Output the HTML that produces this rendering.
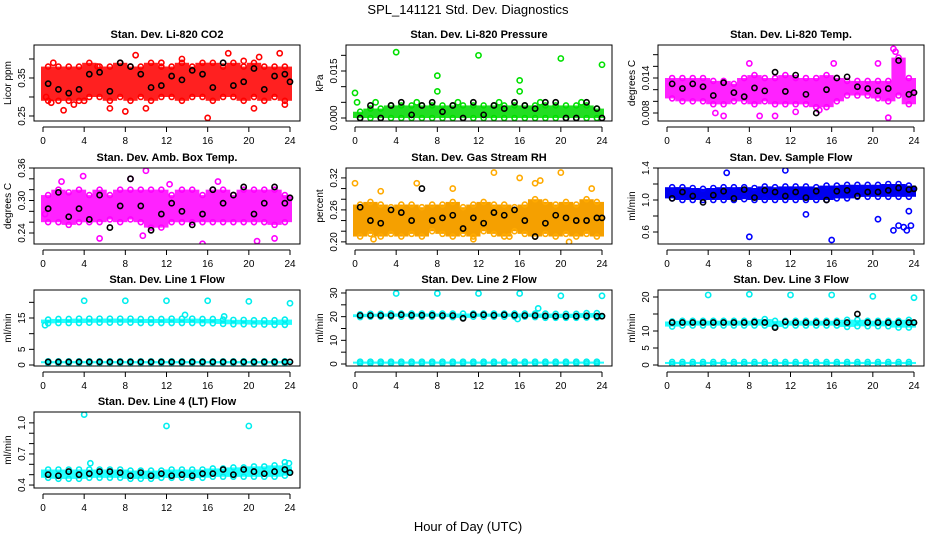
<!DOCTYPE html>
<html><head><meta charset="utf-8"><style>
html,body{margin:0;padding:0;background:#fff}
svg{display:block;font-family:"Liberation Sans",sans-serif}
</style></head><body>
<svg id="chart" width="936" height="540" viewBox="0 0 936 540">
<text x="468" y="14" text-anchor="middle" font-size="13">SPL_141121  Std. Dev. Diagnostics</text>
<text x="468" y="531" text-anchor="middle" font-size="13">Hour of Day (UTC)</text>
</svg>
<script>
// shared x categories
const bandHours = [0,1,2,3,4,5,6,7,8,9,10,11,12,13,14,15,16,17,18,19,20,21,22,23];
const blackHours = [0.5,1.5,2.5,3.5,4.5,5.5,6.5,7.5,8.5,9.5,10.5,11.5,12.5,13.5,14.5,15.5,16.5,17.5,18.5,19.5,20.5,21.5,22.5,23.5,24];
const xTicks = [0,4,8,12,16,20,24];

// Panel 1: CO2
const co2Lo = [0.29,0.29,0.29,0.29,0.30,0.30,0.29,0.30,0.29,0.30,0.29,0.30,0.30,0.29,0.30,0.30,0.29,0.30,0.30,0.29,0.30,0.29,0.30,0.29];
const co2Hi = [0.38,0.38,0.38,0.38,0.39,0.38,0.38,0.39,0.38,0.38,0.39,0.38,0.38,0.39,0.38,0.39,0.39,0.38,0.39,0.38,0.39,0.38,0.38,0.38];
const co2OutX = [0.3,1,2,4,5.3,6.5,8,9,10,11.5,16,18,19.5,20.5,23,23.5,0.8,13.5,3,21];
const co2OutY = [0.30,0.39,0.265,0.29,0.38,0.27,0.262,0.41,0.27,0.39,0.245,0.415,0.395,0.27,0.415,0.28,0.285,0.40,0.28,0.405];
const co2Blk = [0.335,0.32,0.31,0.32,0.36,0.365,0.315,0.39,0.38,0.36,0.325,0.33,0.355,0.345,0.37,0.36,0.325,0.39,0.33,0.34,0.375,0.32,0.355,0.36,0.34];

// Panel 2: Pressure
const prLo = [0,0,0,0,0,0,0,0,0,0,0,0,0,0,0,0,0,0,0,0,0,0,0,0];
const prHi = [0.002,0.003,0.003,0.004,0.004,0.004,0.004,0.004,0.004,0.004,0.004,0.004,0.004,0.004,0.004,0.004,0.004,0.004,0.004,0.004,0.004,0.004,0.004,0.003];
const prOutX = [0,4,8,8,12,16,16,20,24,0.2,2,6,10,14,18,22];
const prOutY = [0.008,0.021,0.0135,0.0085,0.020,0.012,0.0085,0.019,0.017,0.005,0.005,0.005,0.005,0.005,0.005,0.005];
const prBlk = [0,0.004,0,0.004,0.005,0.001,0.004,0.005,0.002,0.004,0,0.005,0.001,0.004,0.003,0.005,0.004,0.003,0.005,0.005,0,0,0.005,0.003,0];

// Panel 3: Li-820 Temp
const tmLo = [0.0105,0.0100,0.0100,0.0100,0.0095,0.0095,0.0100,0.0100,0.0095,0.0100,0.0095,0.0095,0.0095,0.0095,0.0090,0.0090,0.0100,0.0110,0.0110,0.0110,0.0105,0.0100,0.0110,0.0095];
const tmHi = [0.0140,0.0140,0.0140,0.0140,0.0135,0.0135,0.0130,0.0140,0.0145,0.0140,0.0140,0.0145,0.0140,0.0140,0.0140,0.0145,0.0140,0.0135,0.0135,0.0135,0.0135,0.0135,0.0175,0.0140];
const tmOutX = [5.5,9,21.5,8,16.2,20.5,22,22.2,4.7,10.5,12.5,14.8];
const tmOutY = [0.0075,0.0075,0.0072,0.0165,0.0165,0.0165,0.0190,0.0185,0.0080,0.0075,0.0082,0.0085];
const tmBlk = [0.0130,0.0122,0.0130,0.0125,0.0110,0.0132,0.0115,0.0108,0.0123,0.0118,0.0150,0.0117,0.0145,0.0112,0.0080,0.0120,0.0140,0.0142,0.0125,0.0122,0.0118,0.0122,0.0170,0.0112,0.0115];

// Panel 4: Amb Box Temp
const abLo = [0.26,0.26,0.255,0.26,0.26,0.26,0.265,0.26,0.265,0.26,0.25,0.25,0.26,0.26,0.26,0.26,0.26,0.26,0.26,0.26,0.26,0.26,0.255,0.26];
const abHi = [0.31,0.32,0.315,0.32,0.31,0.32,0.31,0.32,0.32,0.32,0.32,0.32,0.31,0.32,0.32,0.31,0.32,0.32,0.31,0.32,0.32,0.32,0.32,0.31];
const abOutX = [10,1.8,5.5,15.5,20.8,8.5,3.9,12.3,22.5,0.2,17,9.7];
const abOutY = [0.355,0.335,0.23,0.22,0.225,0.34,0.345,0.33,0.23,0.275,0.335,0.235];
const abBlk = [0.285,0.315,0.27,0.285,0.265,0.31,0.25,0.29,0.34,0.29,0.245,0.275,0.295,0.28,0.255,0.275,0.32,0.295,0.31,0.325,0.275,0.295,0.325,0.295,0.305];

// Panel 5: Gas Stream RH
const rhLo = [0.21,0.215,0.21,0.215,0.21,0.215,0.21,0.22,0.215,0.21,0.215,0.21,0.22,0.215,0.21,0.22,0.215,0.21,0.215,0.21,0.215,0.21,0.215,0.21];
const rhHi = [0.27,0.275,0.27,0.265,0.27,0.27,0.265,0.27,0.27,0.275,0.265,0.27,0.275,0.27,0.27,0.265,0.27,0.28,0.275,0.27,0.275,0.27,0.28,0.275];
const rhOutX = [0,2.5,6,9.5,13.5,16,17.5,18,20,23,1.8,11.5,20.8,15];
const rhOutY = [0.31,0.295,0.31,0.30,0.33,0.32,0.31,0.315,0.33,0.30,0.205,0.205,0.20,0.21];
const rhBlk = [0.265,0.24,0.235,0.26,0.255,0.24,0.30,0.24,0.245,0.25,0.225,0.245,0.235,0.255,0.25,0.26,0.24,0.21,0.235,0.25,0.245,0.24,0.24,0.245,0.245];

// Panel 6: Sample Flow
const sfLo = [1.02,1.00,1.00,1.00,1.00,1.00,1.00,1.01,1.00,1.00,1.00,1.00,1.00,1.00,1.00,1.00,1.02,1.02,1.04,1.04,1.04,1.04,1.04,1.04];
const sfHi = [1.16,1.16,1.15,1.14,1.15,1.16,1.16,1.16,1.15,1.17,1.16,1.17,1.17,1.17,1.16,1.18,1.18,1.19,1.19,1.19,1.19,1.20,1.20,1.18];
const sfOutX = [8,16,22,22.5,23,23.3,23.5,23.7,20.5,5.8,11.5,13.5];
const sfOutY = [0.54,0.50,0.62,0.68,0.66,0.62,0.86,0.68,0.76,1.34,1.37,0.82];
const sfBlk = [1.02,1.10,1.05,0.97,1.06,1.11,1.02,1.13,1.03,1.12,1.10,1.05,1.10,1.03,1.11,1.00,1.11,1.12,1.05,1.10,1.10,1.12,1.15,1.13,1.14];

// Panel 7: Line 1 Flow
const l1Lo = [13.3,13.4,13.4,13.4,13.5,13.5,13.5,13.5,13.5,13.4,13.4,13.4,13.4,13.4,13.4,13.3,13.3,13.1,13.0,13.0,12.9,12.9,12.8,12.8];
const l1Hi = [14.5,14.7,14.7,14.8,14.8,14.8,14.8,14.8,14.8,14.7,14.7,14.7,14.8,14.8,14.8,14.7,14.7,14.5,14.4,14.4,14.3,14.3,14.3,14.5];
const l1Lo2 = [0.6,0.6,0.6,0.6,0.6,0.6,0.6,0.6,0.6,0.6,0.6,0.6,0.6,0.6,0.6,0.6,0.6,0.6,0.6,0.6,0.6,0.6,0.6,0.6];
const l1Hi2 = [1.2,1.2,1.2,1.2,1.2,1.2,1.2,1.2,1.2,1.2,1.2,1.2,1.2,1.2,1.2,1.2,1.2,1.2,1.2,1.2,1.2,1.2,1.2,1.2];
const l1OutX = [4,8,12,16,20,24,13.8,0.2,17.6];
const l1OutY = [20.5,20.5,20.5,20.5,20.3,19.7,16,12.7,15.5];
const l1Blk = [1,1,1,1,1,1,1,1,1,1,1,1,1,1,1,1,1,1,1,1,1,1,1,1,1];

// Panel 8: Line 2 Flow
const l2Lo = [19.8,20.0,20.0,20.0,20.0,20.0,20.0,20.0,20.0,19.8,19.5,20.0,20.0,20.0,20.0,20.0,20.0,19.8,19.5,19.5,19.5,19.5,19.6,19.6];
const l2Hi = [21.0,21.2,21.2,21.3,21.3,21.3,21.3,21.3,21.3,21.3,21.3,21.3,21.3,21.3,21.3,21.3,21.3,21.3,21.3,21.2,21.2,21.2,21.5,21.5];
const l2Lo2 = [0.3,0.3,0.3,0.3,0.3,0.3,0.3,0.3,0.3,0.3,0.3,0.3,0.3,0.3,0.3,0.3,0.3,0.3,0.3,0.3,0.3,0.3,0.3,0.3];
const l2Hi2 = [1.0,1.0,1.0,1.0,1.0,1.0,1.0,1.0,1.0,1.0,1.0,1.0,1.0,1.0,1.0,1.0,1.0,1.0,1.0,1.0,1.0,1.0,1.0,1.0];
const l2OutX = [4,8,12,16,20,24,17.8,15.8];
const l2OutY = [29.8,29.8,29.8,29.8,28.8,28.8,23.5,19];
const l2Blk = [20.5,20.5,20.5,20.5,20.8,20.6,20.6,20.6,20.5,20.5,19.3,20.8,20.8,20.6,20.8,20.6,20.5,20.5,20.3,20.2,20.2,20.2,20.3,20.2,20.2];

// Panel 9: Line 3 Flow
const l3Lo = [11.3,11.6,11.6,11.6,11.6,11.6,11.6,11.6,11.6,11.6,11.2,11.6,11.6,11.6,11.6,11.6,11.6,11.2,11.4,11.4,11.4,11.4,11.0,11.0];
const l3Hi = [12.8,13.0,13.0,13.0,13.0,13.0,13.0,13.0,13.0,13.5,13.0,13.0,13.0,13.0,13.0,13.0,13.0,13.3,13.3,13.0,13.0,13.0,13.0,13.3];
const l3Lo2 = [0.3,0.3,0.3,0.3,0.3,0.3,0.3,0.3,0.3,0.3,0.3,0.3,0.3,0.3,0.3,0.3,0.3,0.3,0.3,0.3,0.3,0.3,0.3,0.3];
const l3Hi2 = [0.9,0.9,0.9,0.9,0.9,0.9,0.9,0.9,0.9,0.9,0.9,0.9,0.9,0.9,0.9,0.9,0.9,0.9,0.9,0.9,0.9,0.9,0.9,0.9];
const l3OutX = [4,8,12,16,20,24];
const l3OutY = [20.6,20.8,20.6,20.6,20.2,19.8];
const l3Blk = [12.5,12.5,12.5,12.5,12.5,12.5,12.5,12.5,12.6,12.5,11,12.7,12.5,12.5,12.5,12.5,12.5,12.5,15,12.5,12.5,12.5,12.5,12.5,12.5];

// Panel 10: Line 4 Flow
const l4Lo = [0.47,0.46,0.46,0.46,0.47,0.47,0.47,0.47,0.46,0.46,0.46,0.47,0.47,0.47,0.47,0.47,0.48,0.48,0.48,0.48,0.48,0.48,0.48,0.49];
const l4Hi = [0.55,0.55,0.55,0.55,0.55,0.55,0.55,0.55,0.54,0.54,0.54,0.54,0.55,0.55,0.55,0.55,0.56,0.56,0.57,0.57,0.58,0.58,0.59,0.58];
const l4OutX = [4,12,20,4.6,23.5,23.9];
const l4OutY = [1.08,0.97,0.97,0.61,0.62,0.61];
const l4Blk = [0.50,0.49,0.53,0.50,0.51,0.53,0.53,0.52,0.49,0.52,0.49,0.51,0.49,0.50,0.49,0.51,0.51,0.55,0.50,0.55,0.53,0.51,0.53,0.55,0.52];

const NS = 'http://www.w3.org/2000/svg';
const svg = document.getElementById('chart');
function mk(tag, attrs, parent) {
  const e = document.createElementNS(NS, tag);
  for (const k in attrs) e.setAttribute(k, attrs[k]);
  (parent || svg).appendChild(e);
  return e;
}

const panels = [
  {title:'Stan. Dev. Li-820 CO2', ylab:'Licor ppm', col:0,row:0, ymin:0.2368, ymax:0.4368, ticks:[0.25,0.30,0.35,0.40], labels:['0.25','','0.35',''], color:'#ff0000', fill:'#ff2020', bands:[[co2Lo,co2Hi]], ox:co2OutX, oy:co2OutY, blk:co2Blk, name:'co2'},
  {title:'Stan. Dev. Li-820 Pressure', ylab:'kPa', col:1,row:0, ymin:-0.00096, ymax:0.0233, ticks:[0,0.005,0.010,0.015,0.020], labels:['0.000','','','0.015',''], color:'#00e000', fill:'#22dd22', bands:[[prLo,prHi]], ox:prOutX, oy:prOutY, blk:prBlk, name:'pressure'},
  {title:'Stan. Dev. Li-820 Temp.', ylab:'degrees C', col:2,row:0, ymin:0.00663, ymax:0.01966, ticks:[0.008,0.010,0.012,0.014,0.016,0.018], labels:['0.008','','','0.014','',''], color:'#ff00ff', fill:'#ff22ff', bands:[[tmLo,tmHi]], ox:tmOutX, oy:tmOutY, blk:tmBlk, name:'li820-temp'},
  {title:'Stan. Dev. Amb. Box Temp.', ylab:'degrees C', col:0,row:1, ymin:0.2197, ymax:0.360, ticks:[0.24,0.26,0.28,0.30,0.32,0.34,0.36], labels:['0.24','','','0.30','','','0.36'], color:'#ff00ff', fill:'#ff22ff', bands:[[abLo,abHi]], ox:abOutX, oy:abOutY, blk:abBlk, name:'amb-box-temp'},
  {title:'Stan. Dev. Gas Stream RH', ylab:'percent', col:1,row:1, ymin:0.196, ymax:0.3386, ticks:[0.20,0.22,0.24,0.26,0.28,0.30,0.32], labels:['0.20','','','0.26','','','0.32'], color:'#ffaa00', fill:'#f5a000', bands:[[rhLo,rhHi]], ox:rhOutX, oy:rhOutY, blk:rhBlk, name:'gas-stream-rh'},
  {title:'Stan. Dev. Sample Flow', ylab:'ml/min', col:2,row:1, ymin:0.45, ymax:1.40, ticks:[0.6,0.8,1.0,1.2,1.4], labels:['0.6','','1.0','','1.4'], color:'#0000ff', fill:'#0000ee', bands:[[sfLo,sfHi]], ox:sfOutX, oy:sfOutY, blk:sfBlk, name:'sample-flow'},
  {title:'Stan. Dev. Line 1 Flow', ylab:'ml/min', col:0,row:2, ymin:-0.32, ymax:23.94, ticks:[0,5,10,15,20], labels:['0','5','','15',''], color:'#00eeee', fill:'#22ffff', bands:[[l1Lo,l1Hi],[l1Lo2,l1Hi2]], ox:l1OutX, oy:l1OutY, blk:l1Blk, name:'line1-flow'},
  {title:'Stan. Dev. Line 2 Flow', ylab:'ml/min', col:1,row:2, ymin:-0.845, ymax:31.26, ticks:[0,5,10,15,20,25,30], labels:['0','','10','','20','','30'], color:'#00eeee', fill:'#22ffff', bands:[[l2Lo,l2Hi],[l2Lo2,l2Hi2]], ox:l2OutX, oy:l2OutY, blk:l2Blk, name:'line2-flow'},
  {title:'Stan. Dev. Line 3 Flow', ylab:'ml/min', col:2,row:2, ymin:-0.294, ymax:22.06, ticks:[0,5,10,15,20], labels:['0','5','10','','20'], color:'#00eeee', fill:'#22ffff', bands:[[l3Lo,l3Hi],[l3Lo2,l3Hi2]], ox:l3OutX, oy:l3OutY, blk:l3Blk, name:'line3-flow'},
  {title:'Stan. Dev. Line 4 (LT) Flow', ylab:'ml/min', col:0,row:3, ymin:0.3714, ymax:1.105, ticks:[0.4,0.5,0.6,0.7,0.8,0.9,1.0], labels:['0.4','','','0.7','','','1.0'], color:'#00eeee', fill:'#22ffff', bands:[[l4Lo,l4Hi]], ox:l4OutX, oy:l4OutY, blk:l4Blk, name:'line4-flow'}
];
const rowTops = [45,168,290,412];
const BH = 76;

panels.forEach(p => {
  const cx = p.col*312;
  const top = rowTops[p.row], bot = top+BH;
  const L = cx+34, R = cx+300;
  const x = h => cx+43 + h*(247/24);
  const y = v => bot - (v-p.ymin)/(p.ymax-p.ymin)*BH;
  const g = mk('g', {});
  
  
  const clipId = 'clip-' + p.name;
  const cp = mk('clipPath', {id:clipId}, g);
  mk('rect', {x:L, y:top, width:R-L, height:BH}, cp);

  const t = mk('text', {x:(L+R)/2, y:top-7, 'text-anchor':'middle', 'font-size':'11', 'font-weight':'bold'}, g);
  t.textContent = p.title;
  
  

  const yl = mk('text', {x:0, y:0, transform:`translate(${cx+11},${(top+bot)/2}) rotate(-90)`, 'text-anchor':'middle', 'font-size':'10'}, g);
  yl.textContent = p.ylab;
  
  

  const data = mk('g', {'clip-path':`url(#${clipId})`}, g);
  
  
  p.bands.forEach(bd => {
    const lo = bd[0], hi = bd[1];
    bandHours.forEach((h, i) => {
      const x0 = x(h), x1 = x(Math.min(h+1, 24));
      const r = mk('rect', {x:x0-2, y:y(hi[i]), width:x1-x0+4, height:Math.max(2, y(lo[i])-y(hi[i])), fill:p.fill}, data);
      
      
      [lo[i], hi[i]].forEach(v => {
        const c = mk('circle', {cx:x0+(x1-x0)/2, cy:y(v), r:2.5, fill:'none', stroke:p.color, 'stroke-width':1.6}, data);
        
        
      });
    });
  });
  p.ox.forEach((h, i) => {
    const c = mk('circle', {cx:x(h), cy:y(p.oy[i]), r:2.6, fill:'none', stroke:p.color, 'stroke-width':1.6}, data);
    
    
  });
  p.blk.forEach((v, i) => {
    const c = mk('circle', {cx:x(blackHours[i]), cy:y(v), r:2.6, fill:'none', stroke:'#000', 'stroke-width':1.6}, data);
    
    
  });

  const box = mk('rect', {x:L, y:top, width:R-L, height:BH, fill:'none', stroke:'#000', 'stroke-width':1}, g);
  
  

  const ya = mk('g', {}, g);
  
  
  p.ticks.forEach((v, i) => {
    mk('line', {x1:L-5, x2:L, y1:y(v), y2:y(v), stroke:'#000'}, ya);
    if (p.labels[i]) {
      const tl = mk('text', {x:0, y:0, transform:`translate(${L-9},${y(v)}) rotate(-90)`, 'text-anchor':'middle', 'font-size':'10'}, ya);
      tl.textContent = p.labels[i];
      
      
    }
  });
  const xa = mk('g', {}, g);
  
  
  const ay = bot+6;
  mk('line', {x1:x(0), x2:x(24), y1:ay, y2:ay, stroke:'#000'}, xa);
  xTicks.forEach(h => {
    mk('line', {x1:x(h), x2:x(h), y1:ay, y2:ay+5, stroke:'#000'}, xa);
    const tl = mk('text', {x:x(h), y:ay+17, 'text-anchor':'middle', 'font-size':'10'}, xa);
    tl.textContent = h;
    
    
  });
});
</script>
</body></html>
